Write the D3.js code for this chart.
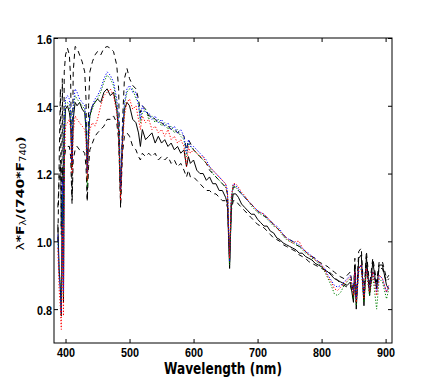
<!DOCTYPE html>
<html>
<head>
<meta charset="utf-8">
<script src="https://cdn.jsdelivr.net/npm/d3@7"></script>
<style>
  body { margin: 0; background: #fff; }
  svg { display: block; }
</style>
</head>
<body>
<script>
// wavelength grid (nm), shared by all spectra
var wavelength = [
  388, 390, 392, 393.4, 395, 396.8, 398, 400,
  403, 406, 408, 410.2, 412, 415, 418, 422, 426, 430, 432, 434,
  436, 438, 442, 446, 450, 455, 460, 465, 470, 475, 480, 483, 486, 489, 492, 496,
  500, 505, 510, 514, 517, 520, 525, 530, 535, 540, 545, 550, 555, 560, 565, 570, 575, 580, 585, 589, 592, 595,
  600, 605, 610, 615, 620, 625, 630, 635, 640, 645, 650, 653,
  656.3, 659, 662, 666, 670, 675, 680, 685, 690, 695,
  700, 705, 710, 715, 720, 725, 730, 735, 740, 745, 750, 755, 760, 765, 770, 775, 780, 785, 790, 795,
  800, 805, 810, 815, 820, 825, 830, 835, 840, 845,
  849.8, 852, 854.2, 858, 862, 866.2, 870, 875, 880, 886, 890, 895, 901.5, 905
];

var fluxSolid = [
  1.05, 0.92, 0.86, 0.78, 1.12, 0.82, 1.30, 1.39,
  1.40, 1.38, 1.35, 1.22, 1.36, 1.41, 1.40, 1.41, 1.39, 1.38, 1.33, 1.22,
  1.32, 1.37, 1.40, 1.41, 1.42, 1.41, 1.44, 1.45, 1.43, 1.44, 1.39, 1.32, 1.14, 1.30, 1.39, 1.41,
  1.40, 1.36, 1.35, 1.32, 1.28, 1.33, 1.30, 1.31, 1.32, 1.29, 1.31, 1.29, 1.30, 1.28, 1.29, 1.27, 1.28, 1.26, 1.27, 1.22, 1.25, 1.23,
  1.24, 1.21, 1.20, 1.20, 1.18, 1.19, 1.17, 1.17, 1.15, 1.15, 1.13, 1.11,
  0.92, 1.10, 1.14, 1.14, 1.13, 1.11, 1.10, 1.09, 1.08, 1.08,
  1.065, 1.055, 1.045, 1.045, 1.03, 1.025, 1.01, 1.005, 0.995, 0.99, 0.985, 0.98, 0.975, 0.965, 0.965, 0.955, 0.95, 0.945, 0.935, 0.93,
  0.925, 0.915, 0.91, 0.90, 0.89, 0.885, 0.88, 0.875, 0.87, 0.88,
  0.82, 0.93, 0.80, 0.95, 0.96, 0.81, 0.955, 0.84, 0.94, 0.86, 0.93, 0.93, 0.87, 0.86
];

var fluxUpper = [
  1.00, 1.22, 1.45, 1.02, 1.48, 1.08, 1.50, 1.55,
  1.57, 1.55, 1.48, 1.13, 1.50, 1.575, 1.57, 1.55, 1.53, 1.50, 1.42, 1.12,
  1.40, 1.50, 1.53, 1.55, 1.56, 1.55, 1.57, 1.575, 1.57, 1.56, 1.52, 1.45, 1.10, 1.35, 1.48, 1.51,
  1.48, 1.46, 1.45, 1.42, 1.38, 1.40, 1.39, 1.37, 1.37, 1.36, 1.35, 1.35, 1.34, 1.34, 1.33, 1.33, 1.32, 1.32, 1.31, 1.27, 1.30, 1.29,
  1.27, 1.26, 1.25, 1.24, 1.23, 1.21, 1.20, 1.19, 1.18, 1.17, 1.16, 1.14,
  0.94, 1.12, 1.16, 1.16, 1.15, 1.14, 1.13, 1.12, 1.11, 1.10,
  1.09, 1.08, 1.075, 1.07, 1.06, 1.05, 1.04, 1.03, 1.02, 1.01, 1.005, 1.00, 0.99, 0.985, 0.98, 0.97, 0.96, 0.955, 0.95, 0.94,
  0.935, 0.93, 0.925, 0.915, 0.91, 0.90, 0.895, 0.89, 0.90, 0.91,
  0.84, 0.95, 0.83, 0.97, 0.98, 0.84, 0.97, 0.87, 0.95, 0.88, 0.94, 0.94, 0.89, 0.90
];

var fluxLower = [
  1.10, 1.18, 1.24, 1.04, 1.22, 1.06, 1.24, 1.27,
  1.28, 1.28, 1.25, 1.11, 1.24, 1.27, 1.28, 1.27, 1.27, 1.26, 1.22, 1.12,
  1.22, 1.27, 1.29, 1.31, 1.32, 1.33, 1.34, 1.36, 1.36, 1.37, 1.35, 1.30, 1.11, 1.26, 1.31, 1.32,
  1.31, 1.28, 1.27, 1.25, 1.24, 1.26, 1.25, 1.26, 1.25, 1.26, 1.24, 1.25, 1.24, 1.25, 1.23, 1.24, 1.22, 1.23, 1.21, 1.19, 1.21, 1.19,
  1.19, 1.18, 1.17, 1.16, 1.15, 1.15, 1.14, 1.14, 1.13, 1.12, 1.12, 1.10,
  0.95, 1.09, 1.12, 1.12, 1.11, 1.10, 1.09, 1.08, 1.07, 1.06,
  1.05, 1.045, 1.04, 1.03, 1.02, 1.01, 1.005, 1.00, 0.99, 0.985, 0.98, 0.975, 0.97, 0.96, 0.955, 0.95, 0.94, 0.935, 0.93, 0.925,
  0.92, 0.915, 0.91, 0.905, 0.895, 0.885, 0.875, 0.87, 0.865, 0.87,
  0.83, 0.90, 0.82, 0.92, 0.93, 0.83, 0.93, 0.85, 0.91, 0.87, 0.92, 0.92, 0.88, 0.89
];

var fluxBlue = [
  1.02, 0.90, 0.85, 0.79, 1.18, 0.85, 1.35, 1.42,
  1.43, 1.42, 1.38, 1.23, 1.40, 1.45, 1.44, 1.42, 1.41, 1.40, 1.35, 1.20,
  1.32, 1.38, 1.40, 1.42, 1.43, 1.45, 1.48, 1.50, 1.49, 1.47, 1.42, 1.36, 1.15, 1.32, 1.41, 1.45,
  1.46, 1.44, 1.44, 1.40, 1.36, 1.40, 1.38, 1.38, 1.36, 1.37, 1.35, 1.36, 1.34, 1.35, 1.33, 1.34, 1.32, 1.33, 1.31, 1.26, 1.30, 1.28,
  1.28, 1.27, 1.26, 1.25, 1.24, 1.22, 1.21, 1.20, 1.19, 1.18, 1.17, 1.15,
  0.94, 1.13, 1.17, 1.165, 1.155, 1.14, 1.13, 1.12, 1.11, 1.10,
  1.09, 1.085, 1.08, 1.07, 1.06, 1.05, 1.045, 1.035, 1.02, 1.01, 1.005, 1.00, 0.995, 0.99, 0.98, 0.97, 0.965, 0.955, 0.95, 0.94,
  0.93, 0.92, 0.90, 0.885, 0.87, 0.865, 0.87, 0.88, 0.89, 0.90,
  0.85, 0.91, 0.83, 0.92, 0.93, 0.84, 0.92, 0.86, 0.91, 0.85, 0.90, 0.89, 0.85, 0.87
];

var fluxGreen = [
  1.00, 0.92, 0.87, 0.80, 1.14, 0.84, 1.32, 1.41,
  1.41, 1.40, 1.37, 1.22, 1.39, 1.43, 1.42, 1.41, 1.40, 1.39, 1.34, 1.16,
  1.30, 1.37, 1.39, 1.41, 1.42, 1.44, 1.47, 1.49, 1.48, 1.46, 1.41, 1.35, 1.14, 1.30, 1.40, 1.44,
  1.45, 1.45, 1.42, 1.41, 1.35, 1.38, 1.39, 1.36, 1.37, 1.35, 1.36, 1.34, 1.35, 1.33, 1.34, 1.32, 1.33, 1.31, 1.30, 1.25, 1.29, 1.28,
  1.27, 1.26, 1.25, 1.24, 1.23, 1.22, 1.20, 1.19, 1.18, 1.17, 1.16, 1.14,
  0.93, 1.12, 1.165, 1.16, 1.15, 1.14, 1.13, 1.12, 1.105, 1.095,
  1.085, 1.08, 1.075, 1.065, 1.055, 1.045, 1.04, 1.03, 1.015, 1.005, 1.00, 0.995, 0.99, 0.985, 0.975, 0.965, 0.96, 0.95, 0.945, 0.935,
  0.925, 0.91, 0.89, 0.87, 0.845, 0.84, 0.85, 0.87, 0.88, 0.89,
  0.83, 0.90, 0.81, 0.91, 0.92, 0.82, 0.91, 0.84, 0.90, 0.80, 0.89, 0.88, 0.83, 0.86
];

var fluxRed = [
  0.98, 0.86, 0.80, 0.74, 1.05, 0.78, 1.22, 1.34,
  1.35, 1.36, 1.33, 1.20, 1.32, 1.37, 1.36, 1.35, 1.34, 1.33, 1.30, 1.18,
  1.28, 1.33, 1.35, 1.34, 1.36, 1.40, 1.43, 1.44, 1.45, 1.43, 1.38, 1.32, 1.12, 1.28, 1.37, 1.41,
  1.42, 1.39, 1.40, 1.36, 1.33, 1.37, 1.35, 1.36, 1.33, 1.34, 1.32, 1.33, 1.31, 1.33, 1.30, 1.31, 1.29, 1.30, 1.28, 1.22, 1.28, 1.26,
  1.27, 1.26, 1.25, 1.25, 1.23, 1.22, 1.21, 1.20, 1.19, 1.18, 1.17, 1.14,
  0.95, 1.13, 1.17, 1.17, 1.16, 1.145, 1.135, 1.12, 1.11, 1.10,
  1.09, 1.085, 1.08, 1.07, 1.06, 1.05, 1.04, 1.03, 1.02, 1.01, 1.00, 0.995, 1.00, 1.00, 0.98, 0.97, 0.96, 0.955, 0.945, 0.94,
  0.93, 0.915, 0.895, 0.88, 0.86, 0.855, 0.865, 0.875, 0.885, 0.895,
  0.84, 0.91, 0.82, 0.92, 0.93, 0.83, 0.92, 0.85, 0.91, 0.84, 0.90, 0.89, 0.85, 0.87
];

var xTicks = [400, 500, 600, 700, 800, 900];
var yTicks = [0.8, 1.0, 1.2, 1.4, 1.6];

function draw() {
  var W = 436, H = 382;
  var mL = 54, mR = 392, mT = 38, mB = 343;
  var squish = 0.8; /* text in the picture is narrower than it is tall */

  var svg = d3.select("body").append("svg")
      .attr("width", W)
      .attr("height", H)
      .style("font-family", "'DejaVu Sans', sans-serif");

  var x = d3.scaleLinear().domain([382, 910]).range([mL, mR]);
  var y = d3.scaleLinear().domain([0.7, 1.6]).range([mB, mT]);

  svg.append("clipPath").attr("id", "clip")
    .append("rect")
      .attr("x", mL).attr("y", mT)
      .attr("width", mR - mL).attr("height", mB - mT);

  var series = [
    { vals: fluxUpper, color: "#000", dash: "5,4" },
    { vals: fluxLower, color: "#000", dash: "5,4" },
    { vals: fluxSolid, color: "#000", dash: null },
    { vals: fluxGreen, color: "#008000", dash: "1.2,1.8" },
    { vals: fluxBlue, color: "#0000ff", dash: "1.2,1.8" },
    { vals: fluxRed, color: "#ff0000", dash: "1.2,1.8" }
  ];

  var line = d3.line()
      .x(function (d, i) { return x(wavelength[i]); })
      .y(function (d) { return y(d); });

  var plot = svg.append("g").attr("clip-path", "url(#clip)");
  series.forEach(function (s) {
    plot.append("path")
        .datum(s.vals)
        .attr("d", line)
        .attr("fill", "none")
        .attr("stroke", s.color)
        .attr("stroke-width", 1)
        .attr("stroke-dasharray", s.dash);
  });

  /* axes, ticks pointing inward on all four sides */
  var ax = svg.append("g")
      .attr("transform", "translate(0," + mB + ")")
      .call(d3.axisBottom(x).tickValues(xTicks).tickSize(-4).tickPadding(4).tickFormat(d3.format("d")));
  var ay = svg.append("g")
      .attr("transform", "translate(" + mL + ",0)")
      .call(d3.axisLeft(y).tickValues(yTicks).tickSize(-4).tickPadding(2).tickFormat(d3.format(".1f")));
  svg.append("g")
      .attr("transform", "translate(0," + mT + ")")
      .call(d3.axisTop(x).tickValues(xTicks).tickSize(-4).tickFormat(""));
  svg.append("g")
      .attr("transform", "translate(" + mR + ",0)")
      .call(d3.axisRight(y).tickValues(yTicks).tickSize(-4).tickFormat(""));

  svg.selectAll(".domain").remove();
  svg.selectAll(".tick line").attr("stroke", "#000");

  ax.selectAll("text")
      .attr("fill", "#000")
      .style("font-size", "13.5px").style("font-weight", "bold")
      .attr("transform", "scale(" + squish + ",1)");
  ay.selectAll("text")
      .attr("fill", "#000")
      .style("font-size", "13.5px").style("font-weight", "bold")
      .attr("x", -2 / squish)
      .attr("dy", "0.4em")
      .attr("transform", "scale(" + squish + ",1)");

  svg.append("rect")
      .attr("x", mL).attr("y", mT)
      .attr("width", mR - mL).attr("height", mB - mT)
      .attr("fill", "none").attr("stroke", "#000").attr("stroke-width", 1);

  /* axis labels */
  svg.append("text")
      .attr("transform", "translate(" + (mL + mR) / 2 + ",374) scale(0.81,1)")
      .attr("text-anchor", "middle")
      .style("font-size", "15px").style("font-weight", "bold")
      .text("Wavelength (nm)");

  var yl = svg.append("text")
      .attr("transform", "translate(24," + (mT + mB + 6) / 2 + ") rotate(-90) scale(1," + squish + ")")
      .attr("text-anchor", "middle")
      .style("font-size", "14px").style("font-weight", "bold");
  yl.append("tspan").style("font-weight", "normal").text("\u03bb");
  yl.append("tspan").text("*F");
  yl.append("tspan").attr("baseline-shift", "-25%").style("font-size", "10px").style("font-weight", "normal").text("\u03bb");
  yl.append("tspan").text("/(740*F");
  yl.append("tspan").attr("baseline-shift", "-25%").style("font-size", "10px").style("font-weight", "normal").text("740");
  yl.append("tspan").text(")");
}

draw();
</script>
</body>
</html>
